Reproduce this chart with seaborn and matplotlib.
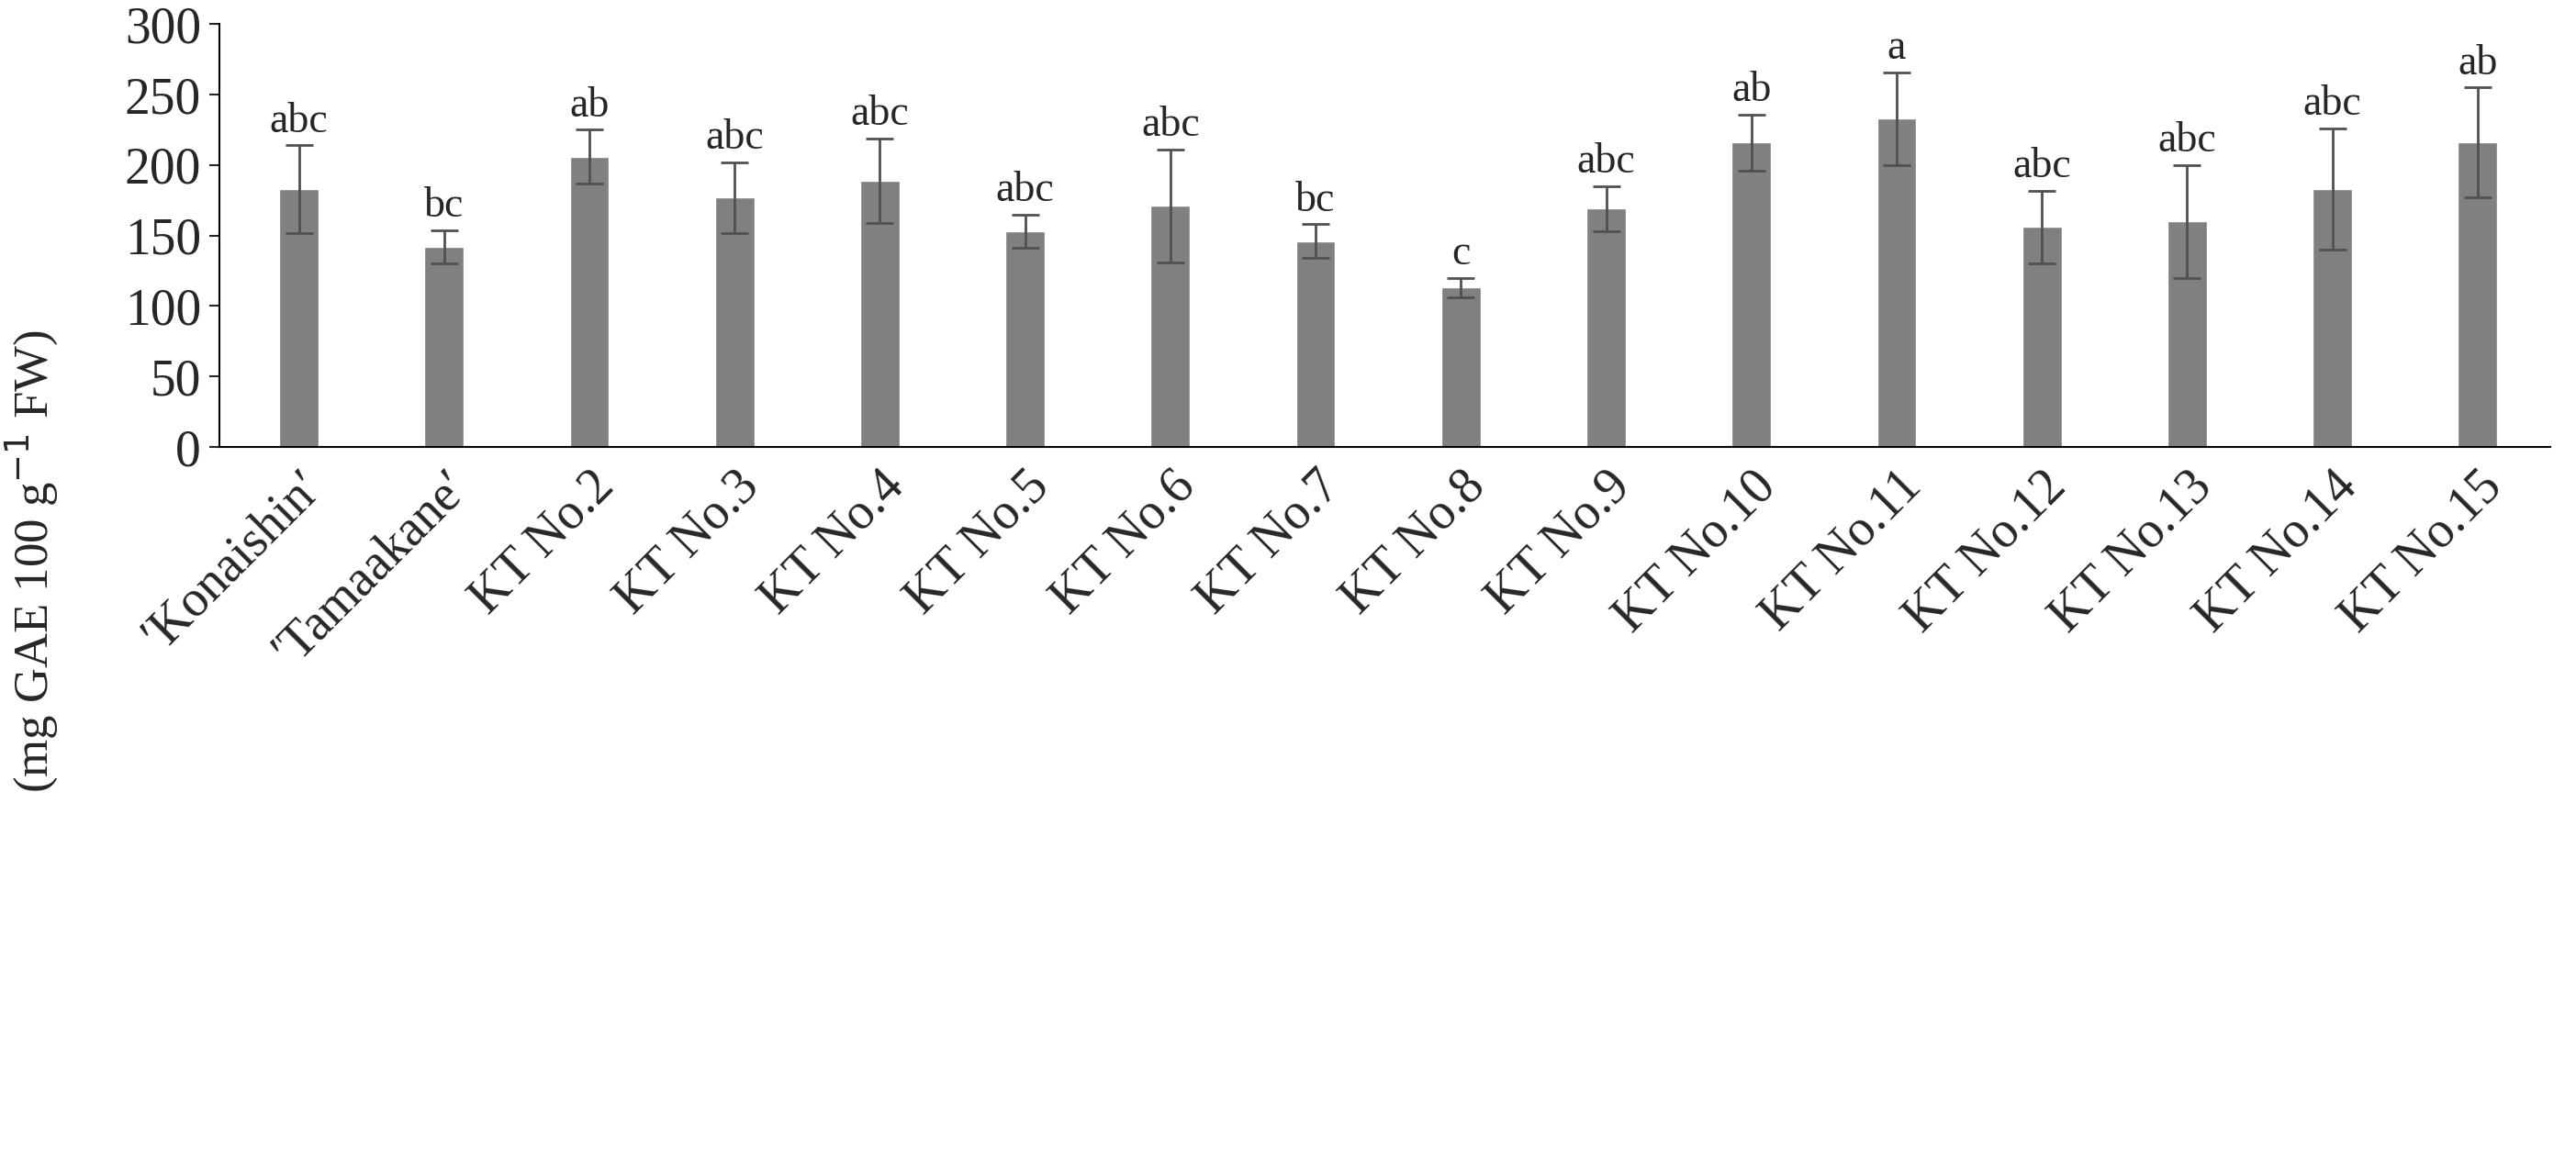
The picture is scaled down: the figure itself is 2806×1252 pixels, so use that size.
import matplotlib
matplotlib.use("Agg")
import matplotlib.pyplot as plt
import seaborn as sns
import pandas as pd

categories = ["\u2032Konaishin\u2032", "\u2032Tamaakane\u2032", "KT No.2", "KT No.3", "KT No.4", "KT No.5",
              "KT No.6", "KT No.7", "KT No.8", "KT No.9", "KT No.10", "KT No.11", "KT No.12",
              "KT No.13", "KT No.14", "KT No.15"]
values = [183, 142, 206, 177, 189, 153, 171, 146, 113, 169, 216, 233, 156, 160, 183, 216]
errors = [31, 12, 19, 25, 30, 12, 40, 12, 7, 16, 20, 33, 26, 40, 43, 39]
letters = ["abc", "bc", "ab", "abc", "abc", "abc", "abc", "bc", "c", "abc", "ab", "a", "abc", "abc", "abc", "ab"]

sns.set_theme(style="white")
plt.rcParams['font.family'] = ['Liberation Serif', 'DejaVu Serif']

df = pd.DataFrame({"cat": categories, "val": values})
fig = plt.figure(figsize=(28.06, 12.52), dpi=100)
ax = fig.add_axes([0.085, 0.611, 0.905, 0.368])
sns.barplot(data=df, x="cat", y="val", color="#808080", saturation=1, width=0.27, ax=ax)
ax.errorbar(range(len(values)), values, yerr=errors, fmt="none", ecolor="#505050",
            elinewidth=2, capsize=11, capthick=2)
for i, (v, e, l) in enumerate(zip(values, errors, letters)):
    ax.text(i, v + e + 3, l, ha="center", va="bottom", fontsize=33)
ax.set_ylim(0, 300)
ax.set_xlim(-0.55, len(values) - 0.5)
ax.set_yticks(range(0, 301, 50))
ax.tick_params(axis="y", labelsize=40, length=8, width=1.5, left=True, direction="out", pad=6)
ax.tick_params(axis="x", labelsize=40, length=0, pad=12)
plt.setp(ax.get_xticklabels(), rotation=45, ha="right", rotation_mode="anchor")
ax.set_xlabel("")
ax.set_ylabel("Total polyphenol content of stem\n(mg GAE 100 g$^{-1}$ FW)", fontsize=38, linespacing=1.05)
ax.yaxis.set_label_coords(-0.068, -0.27)
for s in ["top", "right"]:
    ax.spines[s].set_visible(False)
for s in ["left", "bottom"]:
    ax.spines[s].set_color("black")
    ax.spines[s].set_linewidth(1.5)
fig.savefig("out.png", dpi=100)
